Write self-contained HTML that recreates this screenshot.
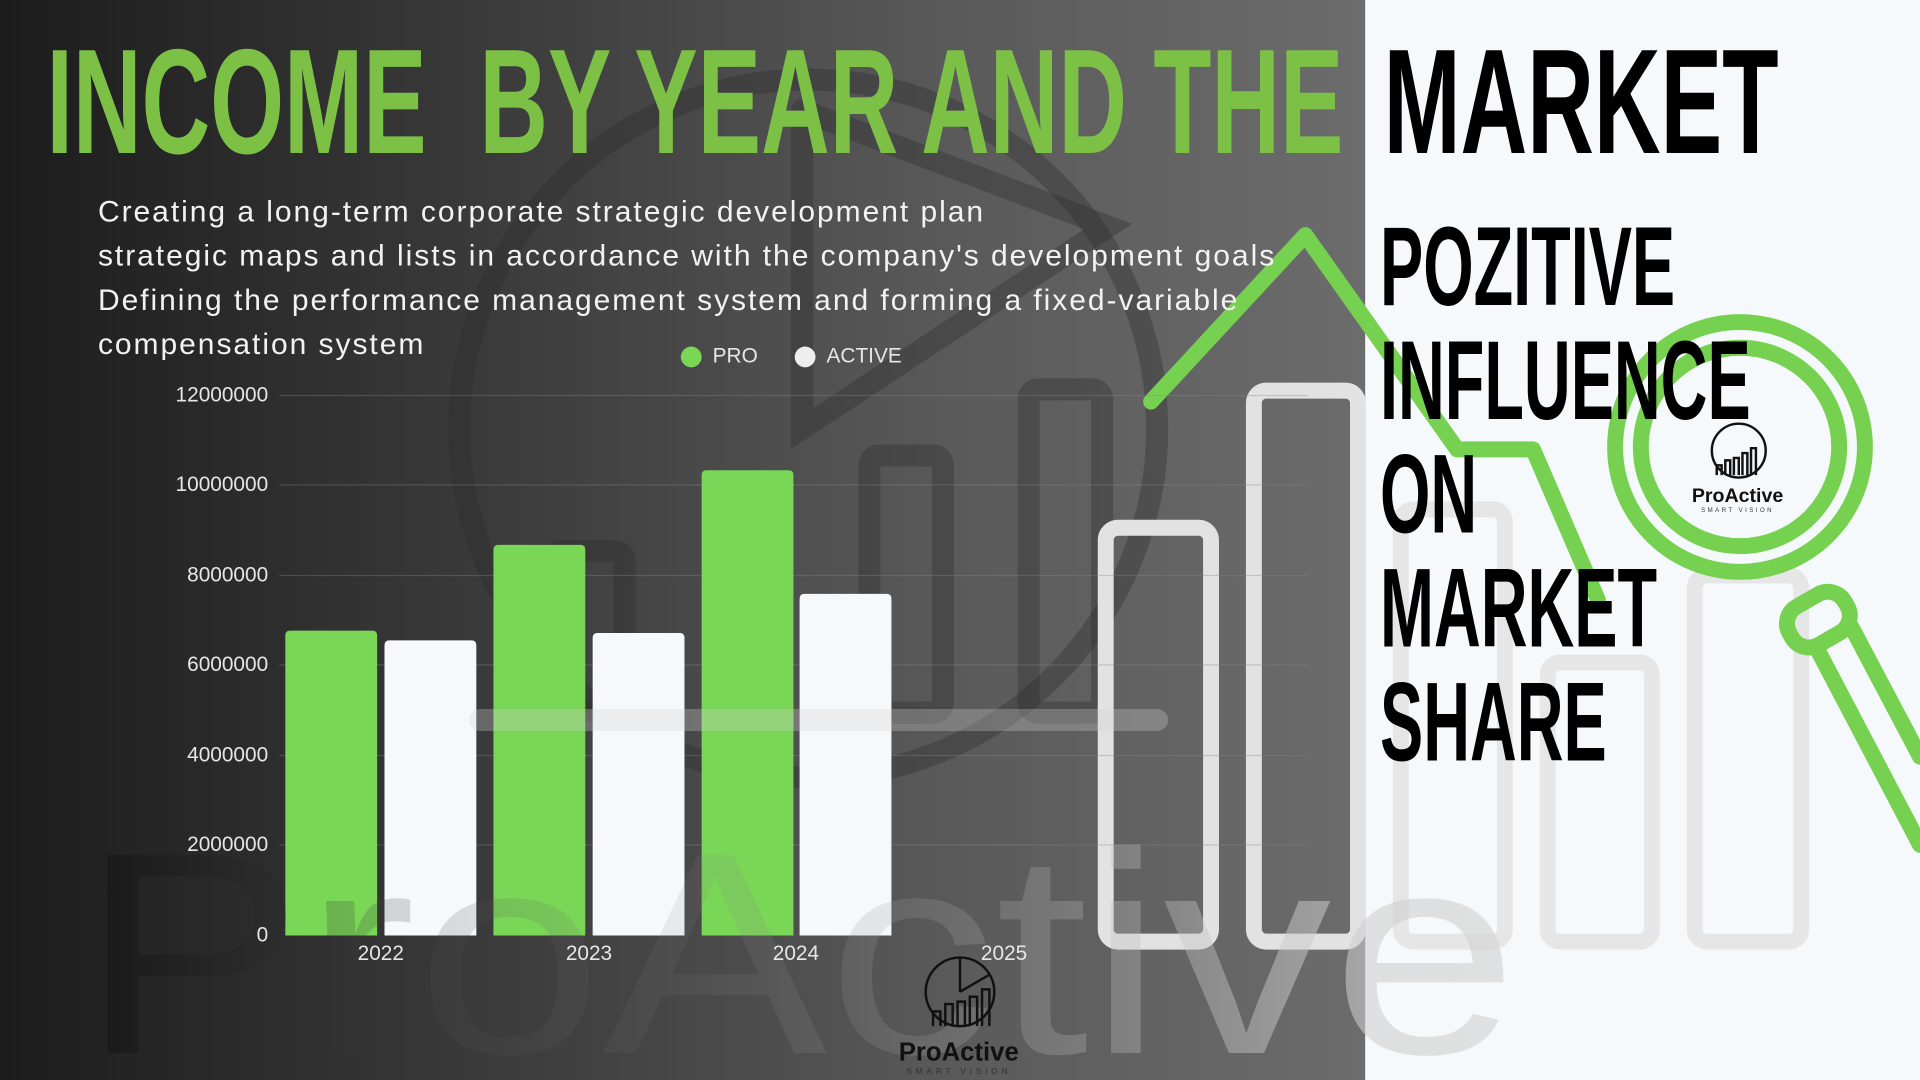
<!DOCTYPE html>
<html><head><meta charset="utf-8"><style>
html,body{margin:0;padding:0;width:1920px;height:1080px;overflow:hidden;background:#f6f9fc}
#s{position:absolute;left:0;top:0;width:1568px;height:882px;transform:scale(1.22449);transform-origin:0 0;font-family:"Liberation Sans",sans-serif}
.abs{position:absolute;white-space:nowrap}
.cond{font-family:"Liberation Sans Narrow","Liberation Sans",sans-serif;font-weight:bold;transform-origin:0 0}
.yl{position:absolute;right:1349px;color:#e6e6e6;font-size:17px;transform:translateY(-50%)}
.xl{position:absolute;top:769px;color:#e6e6e6;font-size:17px;transform:translateX(-50%)}
</style></head><body><div id="s">
<div class="abs" style="left:0;top:0;width:1115px;height:882px;background:linear-gradient(90deg,#1c1c1c 0%,#3a3a3a 35%,#5a5a5a 70%,#6c6c6c 100%)"></div>
<div class="abs" style="left:1115px;top:0;width:453px;height:882px;background:#f6f9fc"></div>
<svg class="abs" style="left:0;top:0" width="1568" height="882">
 <defs><linearGradient id="wm" x1="0" x2="1" y1="0" y2="0">
  <stop offset="0" stop-color="#000" stop-opacity="0.3"/>
  <stop offset="0.4" stop-color="#777" stop-opacity="0.12"/>
  <stop offset="0.7" stop-color="#bbb" stop-opacity="0.3"/>
  <stop offset="1" stop-color="#d8d8d8" stop-opacity="0.75"/></linearGradient></defs>
 <g fill="none" stroke="#2a2a2a" stroke-opacity="0.35" stroke-width="18" stroke-linecap="round">
  <circle cx="660" cy="350" r="285"/>
  <polyline points="655,90 655,350 905,185 655,90"/>
  <rect x="450" y="450" width="60" height="130" rx="8"/>
  <rect x="710" y="372" width="60" height="210" rx="8"/>
  <rect x="840" y="318" width="60" height="264" rx="8"/>
 </g>
 <g fill="none" stroke="#e2e2e2" stroke-width="13">
  <rect x="903" y="431" width="86" height="338" rx="10"/>
  <rect x="1024" y="319" width="85" height="450" rx="10"/>
  <rect x="1144" y="416" width="85" height="353" rx="10" stroke="#e6e6e6"/>
  <rect x="1264" y="541" width="85" height="228" rx="10" stroke="#e6e6e6"/>
  <rect x="1384" y="470" width="87" height="299" rx="10" stroke="#e6e6e6"/>
 </g>
 <g fill="none" stroke="#77d150" stroke-width="13" stroke-linecap="round" stroke-linejoin="round">
  <polyline points="940,328 1066,192 1190,367 1252,367 1305,490"/>
  <circle cx="1421" cy="365" r="102"/>
  <circle cx="1421" cy="365" r="81"/>
  <rect x="1459" y="488" width="52" height="36" rx="16" transform="rotate(-30 1485 506)"/>
  <polyline points="1483,528 1568,690"/>
  <polyline points="1512,512 1568,618"/>
 </g>
 <g stroke="#888" stroke-opacity="0.35" stroke-width="1">
  <line x1="228" y1="323" x2="1068" y2="323"/><line x1="228" y1="396" x2="1068" y2="396"/>
  <line x1="228" y1="470" x2="1068" y2="470"/><line x1="228" y1="543" x2="1068" y2="543"/>
  <line x1="228" y1="617" x2="1068" y2="617"/><line x1="228" y1="690" x2="1068" y2="690"/>
 </g>
 <g>
  <path d="M233,764V519q0-4 4-4h67q4,0 4,4V764z" fill="#7ad657"/>
  <path d="M314,764V527q0-4 4-4h67q4,0 4,4V764z" fill="#f6f9fc"/>
  <path d="M403,764V449q0-4 4-4h67q4,0 4,4V764z" fill="#7ad657"/>
  <path d="M484,764V521q0-4 4-4h67q4,0 4,4V764z" fill="#f6f9fc"/>
  <path d="M573,764V388q0-4 4-4h67q4,0 4,4V764z" fill="#7ad657"/>
  <path d="M653,764V489q0-4 4-4h67q4,0 4,4V764z" fill="#f6f9fc"/>
 </g>
 <g fill="none" stroke="#cfcfcf" stroke-opacity="0.3" stroke-width="18" stroke-linecap="round">
  <line x1="392" y1="588" x2="945" y2="588"/>
 </g>
 <text x="65" y="860" font-family="Liberation Sans" font-size="235" fill="url(#wm)" textLength="1175" lengthAdjust="spacingAndGlyphs">ProActive</text>
 <g fill="none" stroke="#111" stroke-width="2">
  <circle cx="784" cy="810" r="28"/>
  <path d="M784,810 L784,782 M784,810 L808,796"/>
  <path d="M762,838V826h6v12M772,838V820h6v18M782,838V818h6v20M792,838V814h6v24M802,838V808h6v30"/>
  <circle cx="1420" cy="368" r="22"/>
  <path d="M1402,388V380h4v8M1409,388V376h4v12M1416,388V374h4v14M1423,388V370h4v18M1430,388V366h4v22"/>
 </g>
 <text x="783" y="866" text-anchor="middle" font-family="Liberation Sans" font-weight="bold" font-size="21" fill="#111">ProActive</text>
 <text x="783" y="877" text-anchor="middle" font-family="Liberation Sans" font-size="7" letter-spacing="3" fill="#333">SMART VISION</text>
 <text x="1419" y="410" text-anchor="middle" font-family="Liberation Sans" font-weight="bold" font-size="16" fill="#111">ProActive</text>
 <text x="1419" y="418" text-anchor="middle" font-family="Liberation Sans" font-size="5" letter-spacing="2" fill="#333">SMART VISION</text>
</svg>
<div class="abs cond" style="left:38px;top:22px;font-size:122px;line-height:122px;color:#7cc146;transform:scaleX(0.636)">INCOME&nbsp;&nbsp;BY YEAR AND THE</div>
<div class="abs cond" style="left:1130px;top:22px;font-size:122px;line-height:122px;color:#000;transform:scaleX(0.618)">MARKET</div>
<div class="abs cond" style="left:1127px;top:172px;font-size:92px;line-height:93px;color:#000;transform:scaleX(0.575)">POZITIVE<br>INFLUENCE<br>ON<br>MARKET<br>SHARE</div>
<div class="abs" style="left:80px;top:156px;font-size:24.5px;line-height:36px;color:#f2f2f2;letter-spacing:1.6px">Creating a long-term corporate strategic development plan<br>strategic maps and lists in accordance with the company's development goals<br>Defining the performance management system and forming a fixed-variable<br>compensation system</div>
<div class="abs" style="left:556px;top:283px;width:17px;height:17px;border-radius:50%;background:#7ad657"></div>
<div class="abs" style="left:582px;top:281px;font-size:17px;color:#e6e6e6">PRO</div>
<div class="abs" style="left:649px;top:283px;width:17px;height:17px;border-radius:50%;background:#eee"></div>
<div class="abs" style="left:675px;top:281px;font-size:17px;color:#e6e6e6">ACTIVE</div>
<div class="yl" style="top:323px">12000000</div>
<div class="yl" style="top:396px">10000000</div>
<div class="yl" style="top:470px">8000000</div>
<div class="yl" style="top:543px">6000000</div>
<div class="yl" style="top:617px">4000000</div>
<div class="yl" style="top:690px">2000000</div>
<div class="yl" style="top:764px">0</div>
<div class="xl" style="left:311px">2022</div>
<div class="xl" style="left:481px">2023</div>
<div class="xl" style="left:650px">2024</div>
<div class="xl" style="left:820px">2025</div>
</div></body></html>
